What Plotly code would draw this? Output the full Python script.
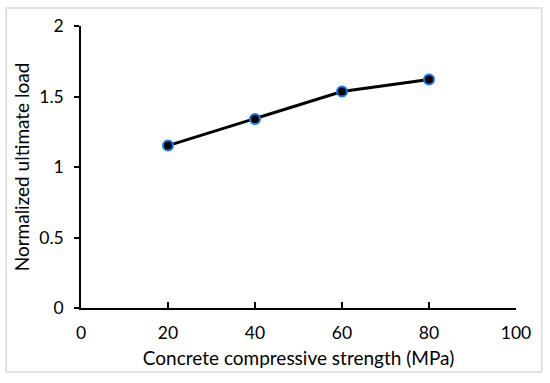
import plotly.graph_objects as go

strength = [20, 40, 60, 80]
normalized_load = [1.152, 1.341, 1.535, 1.62]
x_ticks = [0, 20, 40, 60, 80, 100]
y_ticks = [0, 0.5, 1, 1.5, 2]
y_tick_labels = ["0", "0.5", "1", "1.5", "2"]

font_family = "Lato, Carlito, Calibri, sans-serif"

fig = go.Figure()
fig.add_trace(go.Scatter(
    x=strength, y=normalized_load, mode="lines+markers",
    line=dict(color="black", width=3),
    marker=dict(size=10, color="black", line=dict(color="#1f7ae0", width=2)),
    showlegend=False,
))

fig.update_layout(
    width=550, height=383,
    margin=dict(l=81, r=34, t=26, b=74.5),
    paper_bgcolor="white", plot_bgcolor="white",
    font=dict(family=font_family, color="black"),
    xaxis=dict(
        range=[0, 100], tickvals=x_ticks, ticks="inside", ticklen=6,
        tickcolor="black", tickwidth=1.5, showline=True, linecolor="black",
        linewidth=1.5, showgrid=False, zeroline=False, automargin=False,
        tickfont=dict(size=17.5), ticklabelstandoff=8,
        title=dict(text="Concrete compressive strength (MPa)", font=dict(size=19), standoff=10),
    ),
    yaxis=dict(
        range=[0, 2], tickvals=y_ticks, ticktext=y_tick_labels, ticks="outside",
        ticklen=5, tickcolor="black", tickwidth=1.5, showline=True,
        linecolor="black", linewidth=1.5, showgrid=False, zeroline=False, automargin=False,
        tickfont=dict(size=17.5), ticklabelstandoff=7,
        title=dict(text="Normalized ultimate load", font=dict(size=19), standoff=5),
    ),
    shapes=[dict(
        type="rect", xref="paper", yref="paper",
        x0=-0.172, x1=1.059, y0=-0.227, y1=1.064,
        line=dict(color="#d9d9d9", width=1.5), fillcolor="rgba(0,0,0,0)", layer="below",
    )],
)

fig.write_html(
    "out.html",
    config={"displayModeBar": False},
    post_script="document.body.style.margin='0';document.body.style.overflow='hidden';",
)
